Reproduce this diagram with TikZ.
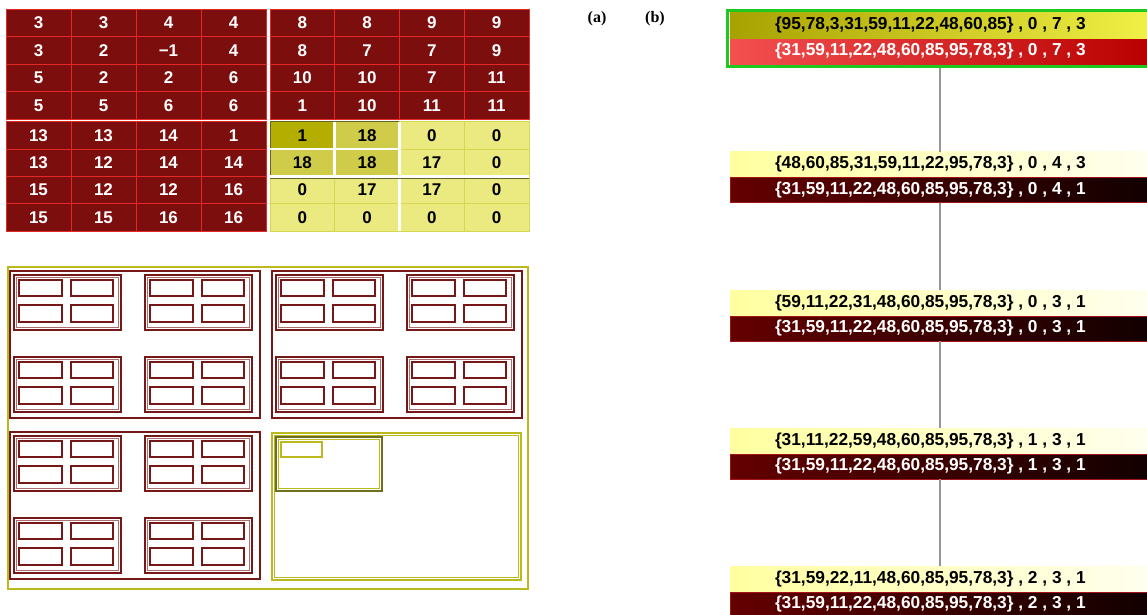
\documentclass[tikz,border=0pt]{standalone}
\usepackage{fontspec}
\setmainfont{Liberation Sans}
\newfontfamily\labfont{Liberation Serif}
\definecolor{cellred}{RGB}{125,14,14}
\definecolor{celledge}{RGB}{228,40,40}
\definecolor{cellyel}{RGB}{234,234,128}
\definecolor{yeledge}{RGB}{214,214,80}
\definecolor{cellolv}{RGB}{180,174,0}
\definecolor{cellmid}{RGB}{206,204,72}
\definecolor{olvedge}{RGB}{100,100,45}
\definecolor{maroon}{RGB}{118,24,24}
\definecolor{maroonlt}{RGB}{170,110,110}
\definecolor{olive}{RGB}{186,186,30}
\definecolor{darkolive}{RGB}{110,110,30}
\definecolor{framegreen}{RGB}{30,200,30}
\definecolor{connGray}{RGB}{150,150,150}
\definecolor{yA}{RGB}{168,162,0}
\definecolor{yB}{RGB}{240,240,70}
\definecolor{rA}{RGB}{244,80,80}
\definecolor{rB}{RGB}{185,0,0}
\definecolor{pA}{RGB}{255,255,160}
\definecolor{pB}{RGB}{255,255,238}
\definecolor{dA}{RGB}{100,0,0}
\definecolor{dB}{RGB}{18,0,0}
\definecolor{dEdge}{RGB}{165,20,20}
\begin{document}
\begin{tikzpicture}[x=1pt,y=-1pt,
  cellbase/.style={inner sep=0pt, line width=0.8pt, minimum height=27.4pt,
    font=\bfseries\fontsize{17}{17}\selectfont},
  redc/.style={cellbase, fill=cellred, draw=celledge, text=white},
  yelc/.style={cellbase, fill=cellyel, draw=yeledge, text=black},
  olvc/.style={cellbase, fill=cellolv, draw=olvedge, text=black},
  midc/.style={cellbase, fill=cellmid, draw=olvedge, text=black},
  gap/.style={white, line width=2.6pt},
  qbox/.style={draw=maroon, line width=1.6pt},
  gbox/.style={draw=maroon, line width=2pt},
  gin/.style={draw=maroonlt, line width=0.8pt},
  sbox/.style={draw=maroon, line width=2pt},
  bar/.style={minimum width=420pt, inner sep=0pt, font=\bfseries\fontsize{17.3}{17}\selectfont},
  ybar/.style={bar, minimum height=25pt, left color=pA, right color=pB, text=black},
  dbar/.style={bar, minimum height=25pt, left color=dA, right color=dB, draw=dEdge, line width=0.8pt, text=white},
  conn/.style={draw=connGray, line width=1.2pt},
  lab/.style={font=\labfont\bfseries\fontsize{16}{16}\selectfont, inner sep=0pt}
]
\useasboundingbox (0,0) rectangle (1147,614);
\fill[white] (0,0) rectangle (1147,614);

% ---------- grid ----------
\foreach \r/\vals in {
  1/{3/redc,3/redc,4/redc,4/redc,8/redc,8/redc,9/redc,9/redc},
  2/{3/redc,2/redc,−1/redc,4/redc,8/redc,7/redc,7/redc,9/redc},
  3/{5/redc,2/redc,2/redc,6/redc,10/redc,10/redc,7/redc,11/redc},
  4/{5/redc,5/redc,6/redc,6/redc,1/redc,10/redc,11/redc,11/redc},
  5/{13/redc,13/redc,14/redc,1/redc,1/olvc,18/midc,0/yelc,0/yelc},
  6/{13/redc,12/redc,14/redc,14/redc,18/midc,18/midc,17/yelc,0/yelc},
  7/{15/redc,12/redc,12/redc,16/redc,0/yelc,17/yelc,17/yelc,0/yelc},
  8/{15/redc,15/redc,16/redc,16/redc,0/yelc,0/yelc,0/yelc,0/yelc}} {
  \foreach \v/\s [count=\c] in \vals {
    \pgfmathsetmacro\cx{\c<5 ? 6+65*(\c-0.5) : 270+64.75*(\c-4.5)}
    \pgfmathsetmacro\cy{\r<5 ? 9+27.5*(\r-0.5) : 121.5+27.4*(\r-4.5)}
    \pgfmathsetmacro\cw{\c<5 ? 65 : 64.75}
    \node[\s, minimum width=\cw pt] (c\r\c) at (\cx,\cy) {\v};
  }
}
% white gaps in the yellow block
\draw[gap] (399.5,121.5) -- (399.5,231);
\draw[gap] (270,176.3) -- (529,176.3);
\draw[gap] (334.75,121.5) -- (334.75,176.3);
\draw[gap] (270,148.9) -- (399.5,148.9);
\draw[olvedge, line width=0.8pt] (270,178) -- (529,178);

% ---------- nested boxes ----------
\draw[olive, line width=2pt] (8,267) rectangle (528,589);
\foreach \qx/\qy in {10/271, 272/271, 10/432} {
  \draw[qbox] (\qx,\qy) rectangle ++(250,147);
  \foreach \gx/\gy in {4/4, 135/4, 4/86, 135/86} {
    \begin{scope}[shift={(\qx+\gx,\qy+\gy)}]
      \draw[gbox] (0,0) rectangle (107,55);
      \draw[gin] (2.6,2.6) rectangle (104.4,52.4);
      \draw[sbox] (5,5) rectangle (48,21);
      \draw[sbox] (57,5) rectangle (99,21);
      \draw[sbox] (5,30) rectangle (48,47);
      \draw[sbox] (57,30) rectangle (99,47);
    \end{scope}
  }
}
\draw[olive, line width=2pt] (272,433) rectangle (521,580);
\draw[olive, line width=0.8pt] (274.6,435.6) rectangle (518.4,577.4);
\draw[darkolive, line width=2pt] (276,437) rectangle (382,491);
\draw[olive, line width=1pt] (278.5,439.5) rectangle (379.5,488.5);
\draw[olive, line width=2.2pt] (281,442) rectangle (322,457);

% ---------- labels ----------
\node[lab] (la) at (597,19) {(a)};
\node[lab] (lb) at (655,19) {(b)};

% ---------- list ----------
\node[ybar, left color=yA, right color=yB, minimum height=26pt] (y1) at (940,25)
  {\makebox[330pt][l]{\{95,78,3,31,59,11,22,48,60,85\} , 0 , 7 , 3}};
\node[bar, minimum height=25pt, left color=rA, right color=rB, text=white] (d1) at (940,51.5)
  {\makebox[330pt][l]{\{31,59,11,22,48,60,85,95,78,3\} , 0 , 7 , 3}};
\node[draw=framegreen, line width=3pt, minimum width=426pt, minimum height=56pt, inner sep=0pt] (f1) at (940,38.5) {};

\node[ybar] (y2) at (940,164.25) {\makebox[330pt][l]{\{48,60,85,31,59,11,22,95,78,3\} , 0 , 4 , 3}};
\node[dbar] (d2) at (940,189.75) {\makebox[330pt][l]{\{31,59,11,22,48,60,85,95,78,3\} , 0 , 4 , 1}};

\node[ybar] (y3) at (940,303) {\makebox[330pt][l]{\{59,11,22,31,48,60,85,95,78,3\} , 0 , 3 , 1}};
\node[dbar] (d3) at (940,328.5) {\makebox[330pt][l]{\{31,59,11,22,48,60,85,95,78,3\} , 0 , 3 , 1}};

\node[ybar] (y4) at (940,441) {\makebox[330pt][l]{\{31,11,22,59,48,60,85,95,78,3\} , 1 , 3 , 1}};
\node[dbar] (d4) at (940,466.5) {\makebox[330pt][l]{\{31,59,11,22,48,60,85,95,78,3\} , 1 , 3 , 1}};

\node[ybar] (y5) at (940,579) {\makebox[330pt][l]{\{31,59,22,11,48,60,85,95,78,3\} , 2 , 3 , 1}};
\node[dbar] (d5) at (940,604.5) {\makebox[330pt][l]{\{31,59,11,22,48,60,85,95,78,3\} , 2 , 3 , 1}};

\draw[conn] (f1.south) -- (y2.north);
\draw[conn] (d2.south) -- (y3.north);
\draw[conn] (d3.south) -- (y4.north);
\draw[conn] (d4.south) -- (y5.north);
\end{tikzpicture}
\end{document}
